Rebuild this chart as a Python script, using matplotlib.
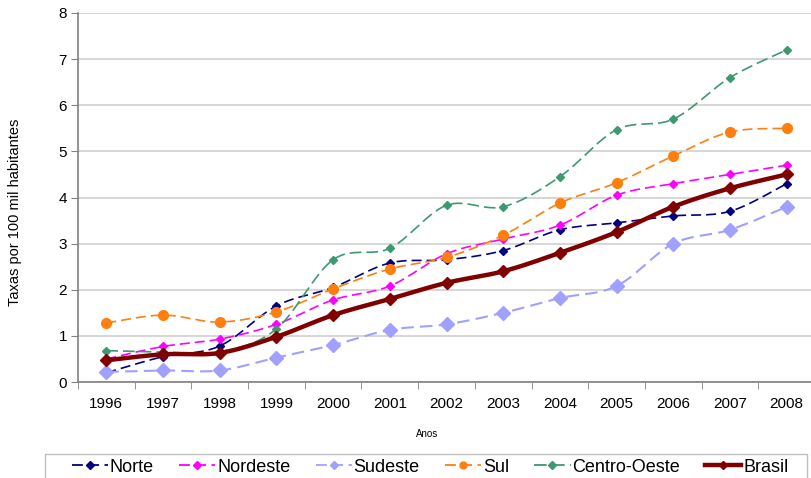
import numpy as np
import matplotlib
matplotlib.use("Agg")
import matplotlib.pyplot as plt
from matplotlib.lines import Line2D
from matplotlib.patches import Rectangle

plt.rcParams['font.family'] = ['Liberation Sans', 'DejaVu Sans']

anos = ['1996', '1997', '1998', '1999', '2000', '2001', '2002', '2003',
        '2004', '2005', '2006', '2007', '2008']
norte = [0.20, 0.55, 0.78, 1.65, 2.05, 2.58, 2.65, 2.85, 3.30, 3.45, 3.60, 3.70, 4.30]
nordeste = [0.50, 0.77, 0.93, 1.25, 1.78, 2.08, 2.78, 3.10, 3.40, 4.05, 4.30, 4.50, 4.70]
sudeste = [0.22, 0.25, 0.25, 0.53, 0.80, 1.13, 1.25, 1.50, 1.82, 2.08, 3.00, 3.30, 3.80]
sul = [1.28, 1.45, 1.30, 1.52, 2.02, 2.45, 2.70, 3.18, 3.88, 4.32, 4.90, 5.42, 5.50]
centro_oeste = [0.68, 0.65, 0.65, 1.15, 2.65, 2.90, 3.83, 3.80, 4.45, 5.47, 5.70, 6.60, 7.20]
brasil = [0.47, 0.60, 0.63, 0.98, 1.45, 1.80, 2.15, 2.40, 2.80, 3.25, 3.80, 4.20, 4.50]

series = [
    ('Norte', norte, dict(color='#000080', ls=(0, (6, 3)), lw=1.2, marker='D', ms=4.5, lms=4)),
    ('Nordeste', nordeste, dict(color='#FF00FF', ls=(0, (6, 3)), lw=1.2, marker='D', ms=4.5, lms=4)),
    ('Sudeste', sudeste, dict(color='#A0A0FF', ls=(0, (6, 3)), lw=1.5, marker='D', ms=7, lms=4.5)),
    ('Sul', sul, dict(color='#FF7F0E', ls=(0, (6, 3)), lw=1.2, marker='o', ms=7, lms=5)),
    ('Centro-Oeste', centro_oeste, dict(color='#3D9970', ls=(0, (7, 3)), lw=1.2, marker='D', ms=4.5, lms=4)),
    ('Brasil', brasil, dict(color='#800000', ls='-', lw=3.2, marker='D', ms=6, lms=4)),
]


def smooth(x, y, n=24):
    x = np.asarray(x, float)
    y = np.asarray(y, float)
    P = np.column_stack([x, y])
    out = []
    N = len(P)
    for i in range(N - 1):
        p0 = P[i]
        p3 = P[i + 1]
        pm = P[i - 1] if i > 0 else P[i]
        pp = P[i + 2] if i + 2 < N else P[i + 1]
        c1 = p0 + (p3 - pm) / 6.0
        c2 = p3 - (pp - p0) / 6.0
        t = np.linspace(0, 1, n, endpoint=(i == N - 2))[:, None]
        seg = ((1 - t) ** 3) * p0 + 3 * ((1 - t) ** 2) * t * c1 + 3 * (1 - t) * t ** 2 * c2 + t ** 3 * p3
        out.append(seg)
    out = np.vstack(out)
    return out[:, 0], out[:, 1]


W, H = 812, 478
fig = plt.figure(figsize=(W / 100, H / 100), dpi=100)
ax = fig.add_axes([78 / W, 1 - 382 / H, 737 / W, 369 / H])

x = np.arange(len(anos))
handles = []
for name, vals, st in series:
    sx, sy = smooth(x, vals)
    ax.plot(sx, sy, color=st['color'], ls=st['ls'], lw=st['lw'], zorder=3)
    ax.plot(x, vals, ls='none', marker=st['marker'], ms=st['ms'], color=st['color'],
            mec=st['color'], zorder=4)
    handles.append(Line2D([], [], color=st['color'], ls=st['ls'], lw=st['lw'] if st['lw'] > 2 else 1.3,
                          marker=st['marker'], ms=st['lms']))

ax.set_xlim(-0.5, len(anos) - 0.5)
ax.set_ylim(0, 8)
ax.set_yticks(range(0, 9))
ax.set_xticks(x)
ax.set_xticklabels(anos)
ax.set_xticks(np.arange(-0.5, len(anos)), minor=True)
ax.tick_params(axis='x', which='major', length=0, pad=11, labelsize=11)
ax.tick_params(axis='x', which='minor', length=5, color='#808080', direction='out')
ax.tick_params(axis='y', length=5, color='#808080', labelsize=11, pad=3)
ax.grid(axis='y', color='#D0D0D0', lw=1.2, zorder=0)
for s in ['top', 'right']:
    ax.spines[s].set_visible(False)
for s in ['left', 'bottom']:
    ax.spines[s].set_color('#808080')
    ax.spines[s].set_linewidth(1.2)

fig.text(15.5 / W, 1 - 212 / H, 'Taxas por 100 mil habitantes', fontsize=10.5,
         rotation=90, ha='center', va='center')
fig.text(427 / W, 1 - 434 / H, 'Anos', fontsize=7, ha='center', va='center')

fig.patches.append(Rectangle((45 / W, -0.02), (807 - 45) / W, (478 - 454) / H + 0.02,
                             transform=fig.transFigure, fill=False,
                             edgecolor='#C0C0C0', lw=1.0))

leg = fig.legend(handles, [s[0] for s in series], loc='center left', ncol=6,
                 bbox_to_anchor=(72 / W, 1 - 467 / H), frameon=False,
                 fontsize=13, handlelength=2.0, handletextpad=0.1,
                 columnspacing=1.4, borderpad=0, borderaxespad=0)

fig.savefig('out.png', dpi=100)
